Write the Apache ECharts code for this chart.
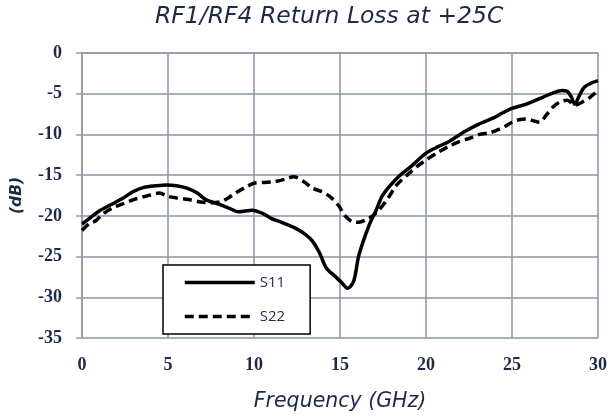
<!DOCTYPE html>
<html>
<head>
<meta charset="utf-8">
<script src="https://cdn.jsdelivr.net/npm/echarts@6/dist/echarts.min.js"></script>
<style>html,body{margin:0;padding:0;background:#fff;}#chart{width:610px;height:417px;}</style>
</head>
<body>
<div id="chart"></div>
<script>
const titleText = 'RF1/RF4 Return Loss at +25C';
const xName = 'Frequency (GHz)';
const yName = '(dB)';
const seriesNames = ['S11', 'S22'];

const s11Freq = [0, 0.5, 1.0, 1.7, 2.4, 3.0, 3.6, 4.3, 4.9, 5.5, 6.1, 6.7, 7.2, 8.0, 8.6, 9.1, 9.9, 10.5, 11.0, 11.6, 12.4, 13.0, 13.4, 13.8, 14.2, 14.7, 15.1, 15.45, 15.8, 16.1, 16.7, 17.1, 17.5, 18.4, 19.2, 20.0, 20.7, 21.4, 22.2, 23.1, 24.0, 24.5, 25.0, 25.8, 26.6, 27.3, 27.9, 28.2, 28.45, 28.65, 28.9, 29.2, 29.6, 30];
const s11Val  = [-21.0, -20.2, -19.4, -18.6, -17.8, -17.0, -16.5, -16.3, -16.2, -16.3, -16.6, -17.2, -18.0, -18.6, -19.1, -19.5, -19.3, -19.7, -20.3, -20.8, -21.5, -22.3, -23.1, -24.5, -26.4, -27.4, -28.2, -28.9, -28.0, -24.8, -21.1, -19.3, -17.4, -15.2, -13.8, -12.3, -11.5, -10.8, -9.7, -8.7, -7.9, -7.3, -6.8, -6.3, -5.6, -5.0, -4.6, -4.7, -5.4, -6.3, -5.3, -4.2, -3.7, -3.4];

const s22Freq = [0, 0.4, 0.8, 1.2, 1.8, 2.4, 3.0, 3.7, 4.5, 5.0, 5.5, 6.2, 6.9, 7.5, 8.0, 8.5, 9.0, 9.5, 10.0, 10.6, 11.2, 11.8, 12.3, 12.9, 13.4, 13.9, 14.4, 14.9, 15.3, 15.7, 16.1, 16.5, 16.9, 17.3, 17.8, 18.3, 18.9, 19.5, 20.1, 20.7, 21.3, 21.9, 22.5, 23.1, 23.7, 24.1, 24.6, 25.0, 25.4, 25.8, 26.2, 26.6, 27.0, 27.4, 27.8, 28.2, 28.7, 29.1, 29.5, 30];
const s22Val  = [-21.8, -21.0, -20.6, -19.8, -19.0, -18.5, -18.0, -17.6, -17.2, -17.6, -17.8, -18.0, -18.3, -18.4, -18.3, -17.8, -17.1, -16.5, -16.0, -15.9, -15.8, -15.5, -15.2, -15.8, -16.6, -17.0, -17.6, -18.7, -20.0, -20.7, -20.8, -20.5, -20.0, -19.2, -17.8, -16.2, -15.0, -13.9, -13.0, -12.2, -11.5, -10.9, -10.5, -10.0, -9.8, -9.5, -9.0, -8.5, -8.2, -8.1, -8.3, -8.5, -7.6, -6.6, -6.0, -5.8, -6.4, -6.0, -5.5, -4.6];

const xTicks = [0, 5, 10, 15, 20, 25, 30];
const yTicks = [0, -5, -10, -15, -20, -25, -30, -35];

const navy = '#1c2a48';
const gridColor = '#8a95a7';
const axisColor = '#959ba5';

const pairs = (xs, ys) => xs.map((x, i) => [x, ys[i]]);

const chart = echarts.init(document.getElementById('chart'));
chart.setOption({
  animation: false,
  backgroundColor: '#fff',
  title: {
    text: titleText,
    left: 150,
    top: 0,
    textStyle: { fontFamily: 'DejaVu Sans', fontStyle: 'italic', fontWeight: 'normal', fontSize: 23.5, color: navy }
  },
  grid: { left: 82, right: 11, top: 53, bottom: 77, containLabel: false },
  legend: {
    orient: 'vertical',
    left: 163,
    top: 265,
    data: seriesNames,
    itemWidth: 70,
    itemHeight: 14,
    itemGap: 19,
    padding: [10, 25, 10, 20],
    borderColor: '#000',
    borderWidth: 1.5,
    backgroundColor: '#fff',
    itemStyle: { opacity: 0 },
    lineStyle: { width: 3.5 },
    textStyle: { fontFamily: 'Open Sans', fontSize: 15, color: navy }
  },
  xAxis: {
    type: 'value',
    min: xTicks[0],
    max: xTicks[xTicks.length - 1],
    interval: 5,
    name: xName,
    nameLocation: 'middle',
    nameGap: 54,
    nameTextStyle: { fontFamily: 'DejaVu Sans', fontStyle: 'italic', fontSize: 20.5, color: navy },
    axisLine: { show: true, lineStyle: { color: axisColor, width: 1.5 } },
    axisTick: { show: false },
    axisLabel: { margin: 18, fontFamily: 'Liberation Serif', fontWeight: 'bold', fontSize: 18, color: navy },
    splitLine: { show: true, lineStyle: { color: gridColor, width: 1.5 } }
  },
  yAxis: {
    type: 'value',
    min: yTicks[yTicks.length - 1],
    max: yTicks[0],
    interval: 5,
    name: yName,
    nameLocation: 'middle',
    nameRotate: 90,
    nameGap: 57,
    nameTextStyle: { fontFamily: 'DejaVu Sans', fontStyle: 'italic', fontWeight: 'bold', fontSize: 15.5, color: navy },
    axisLine: { show: true, onZero: false, lineStyle: { color: axisColor, width: 1.5 } },
    axisTick: { show: true, inside: false, length: 6, lineStyle: { color: axisColor, width: 1.5 } },
    axisLabel: { margin: 20, fontFamily: 'Liberation Serif', fontWeight: 'bold', fontSize: 18, color: navy },
    splitLine: { show: true, lineStyle: { color: gridColor, width: 1.5 } }
  },
  series: [
    {
      name: seriesNames[0],
      type: 'line',
      data: pairs(s11Freq, s11Val),
      smooth: 0.3,
      symbol: 'none',
      lineStyle: { color: '#000', width: 3.5, type: 'solid' },
      itemStyle: { color: '#000' },
      z: 3
    },
    {
      name: seriesNames[1],
      type: 'line',
      data: pairs(s22Freq, s22Val),
      smooth: 0.3,
      symbol: 'none',
      lineStyle: { color: '#000', width: 3.5, type: [9, 5] },
      itemStyle: { color: '#000' },
      z: 2
    }
  ]
});
</script>
</body>
</html>
